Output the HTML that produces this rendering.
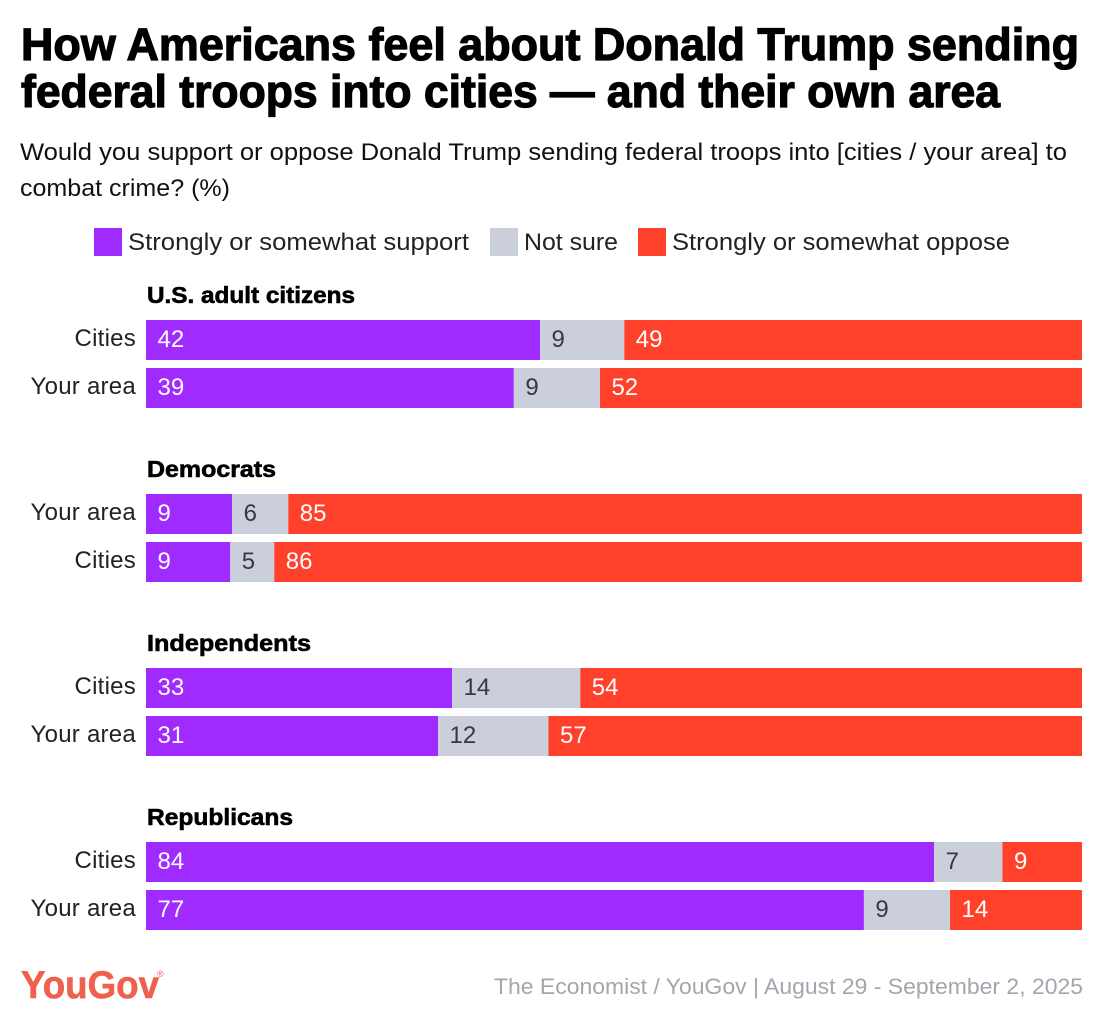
<!DOCTYPE html>
<html lang="en">
<head>
<meta charset="utf-8">
<title>How Americans feel about Donald Trump sending federal troops</title>
<style>
html,body{margin:0;padding:0;background:#fff;width:1104px;height:1026px;overflow:hidden}
svg{display:block;font-family:"Liberation Sans",sans-serif}
</style>
</head>
<body>
<svg id="chart" width="1104" height="1026" viewBox="0 0 1104 1026" xmlns="http://www.w3.org/2000/svg">
  <rect width="1104" height="1026" fill="#ffffff"/>
  <g font-weight="700" font-size="45" fill="#000" stroke="#000" stroke-width="1.2">
    <text x="21" y="60" textLength="1058" lengthAdjust="spacingAndGlyphs">How Americans feel about Donald Trump sending</text>
    <text x="21" y="107" textLength="979" lengthAdjust="spacingAndGlyphs">federal troops into cities — and their own area</text>
  </g>
  <g font-size="24" fill="#111">
    <text x="20" y="160" textLength="1047" lengthAdjust="spacingAndGlyphs">Would you support or oppose Donald Trump sending federal troops into [cities / your area] to</text>
    <text x="20" y="196" textLength="210" lengthAdjust="spacingAndGlyphs">combat crime? (%)</text>
  </g>
  <g font-size="24" fill="#222">
    <rect x="94" y="228" width="28" height="28" fill="#9f2bff"/>
    <text x="128" y="250" textLength="341" lengthAdjust="spacingAndGlyphs">Strongly or somewhat support</text>
    <rect x="490" y="228" width="28" height="28" fill="#cbcfdc"/>
    <text x="524" y="250" textLength="94" lengthAdjust="spacingAndGlyphs">Not sure</text>
    <rect x="638" y="228" width="28" height="28" fill="#ff412c"/>
    <text x="672" y="250" textLength="338" lengthAdjust="spacingAndGlyphs">Strongly or somewhat oppose</text>
  </g>
  <g font-size="23" font-weight="700" fill="#000" stroke="#000" stroke-width="0.6">
    <text x="147" y="303" textLength="208" lengthAdjust="spacingAndGlyphs">U.S. adult citizens</text>
    <text x="147" y="477" textLength="129" lengthAdjust="spacingAndGlyphs">Democrats</text>
    <text x="147" y="651" textLength="164" lengthAdjust="spacingAndGlyphs">Independents</text>
    <text x="147" y="825" textLength="146" lengthAdjust="spacingAndGlyphs">Republicans</text>
  </g>
  <g id="rows"></g>
  <g fill="#f0604f">
    <text x="21" y="998" font-size="39" font-weight="700" stroke="#f0604f" stroke-width="0.6" textLength="138" lengthAdjust="spacingAndGlyphs">YouGov</text>
    <text x="157" y="977" font-size="9">®</text>
  </g>
  <text x="494" y="994" font-size="22" fill="#a3a6ad" textLength="589" lengthAdjust="spacingAndGlyphs">The Economist / YouGov | August 29 - September 2, 2025</text>
</svg>
<script>
var rowLabels = ["Cities","Your area","Your area","Cities","Cities","Your area","Cities","Your area"];
var supportValues = [42.1,39.3,9.2,9.0,32.7,31.2,84.2,76.7];
var notSureValues = [9.0,9.2,6.0,4.7,13.7,11.8,7.3,9.2];
var opposeValues = [48.9,51.5,84.8,86.3,53.6,57.0,8.5,14.1];

var NS = "http://www.w3.org/2000/svg";
var rowsLayer = document.getElementById("rows");
var barLeft = 146, barWidth = 936, barHeight = 40;

function xScale(v) { return barLeft + v / 100 * barWidth; }
function rowTop(i) { return 320 + Math.floor(i / 2) * 174 + (i % 2) * 48; }

function drawSegment(i, start, value, fill, textFill, seriesName) {
  var rect = document.createElementNS(NS, "rect");
  
  
  rect.setAttribute("x", xScale(start));
  rect.setAttribute("y", rowTop(i));
  rect.setAttribute("width", xScale(start + value) - xScale(start));
  rect.setAttribute("height", barHeight);
  rect.setAttribute("fill", fill);
  rowsLayer.appendChild(rect);

  var label = document.createElementNS(NS, "text");
  
  
  label.setAttribute("x", xScale(start) + 11.5);
  label.setAttribute("y", rowTop(i) + 27);
  label.setAttribute("font-size", "24");
  label.setAttribute("fill", textFill);
  label.textContent = String(Math.round(value));
  rowsLayer.appendChild(label);
}

rowLabels.forEach(function (name, i) {
  var rowLabel = document.createElementNS(NS, "text");
  
  
  rowLabel.setAttribute("x", 136);
  rowLabel.setAttribute("y", rowTop(i) + 26);
  rowLabel.setAttribute("text-anchor", "end");
  rowLabel.setAttribute("font-size", "24");
  rowLabel.setAttribute("letter-spacing", "0.25");
  rowLabel.setAttribute("fill", "#222");
  rowLabel.textContent = name;
  rowsLayer.appendChild(rowLabel);

  var s = supportValues[i], n = notSureValues[i], o = opposeValues[i];
  drawSegment(i, 0, s, "#9f2bff", "#ffffff", "support");
  drawSegment(i, s, n, "#cbcfdc", "#333a44", "not-sure");
  drawSegment(i, s + n, o, "#ff412c", "#ffffff", "oppose");
});
</script>
</body>
</html>
